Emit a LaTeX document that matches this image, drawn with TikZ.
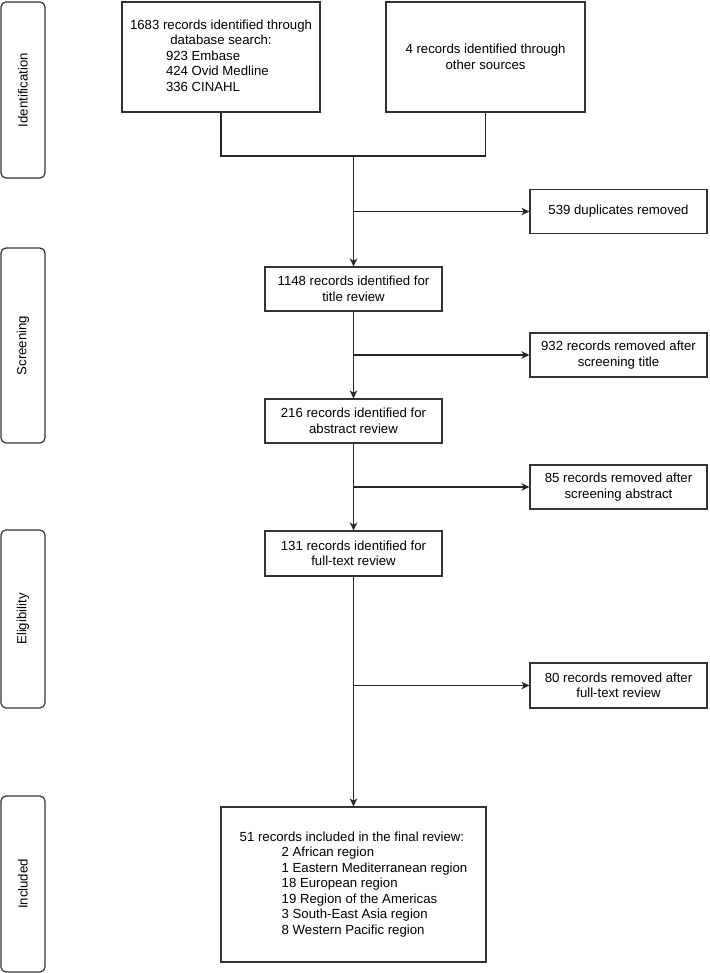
\documentclass[tikz,border=0pt]{standalone}
\usepackage{fontspec}
\setmainfont{Liberation Sans}
\usetikzlibrary{arrows.meta}

\begin{document}
\begin{tikzpicture}[x=1pt, y=-1pt, line width=1.2pt,
    font=\fontsize{13.2}{15.5}\selectfont,
    box/.style={shape=rectangle, draw=black!80, fill=white, inner sep=0pt, align=center,
      minimum width=177pt, minimum height=44pt},
    phase/.style={shape=rectangle, rounded corners=5pt, draw=black!80, inner sep=0pt,
      rotate=90, minimum height=44pt},
    flow/.style={draw=black!85, -{Stealth[length=8pt, width=7.5pt, inset=2.5pt]}}]
    \useasboundingbox (0,0) rectangle (709,973);

    \node at (23, 90) (identification) [phase, minimum width=176pt] {Identification};
    \node at (23, 345.5) (screening) [phase, minimum width=195pt] {Screening};
    \node at (23, 619) (eligibility) [phase, minimum width=178pt] {Eligibility};
    \node at (23, 884) (included) [phase, minimum width=176pt] {Included};

    \node at (221, 57) (database) [box, minimum width=198pt, minimum height=110pt]
      {\begin{tabular}{@{}l@{}}
        \multicolumn{1}{@{}c@{}}{1683 records identified through}\\
        \multicolumn{1}{@{}c@{}}{database search:}\\
        \hspace*{36pt}923 Embase\\
        \hspace*{36pt}424 Ovid Medline\\
        \hspace*{36pt}336 CINAHL
      \end{tabular}};
    \node at (485.5, 57) (other) [box, minimum width=199pt, minimum height=110pt]
      {4 records identified through\\other sources};
    \node at (618.5, 211.5) (duplicates) [box] {539 duplicates removed};
    \node at (353.5, 289) (title) [box] {1148 records identified for\\title review};
    \node at (618.5, 355) (notitle) [box] {932 records removed after\\screening title};
    \node at (353.5, 421) (abstract) [box] {216 records identified for\\abstract review};
    \node at (618.5, 487) (noabstract) [box] {85 records removed after\\screening abstract};
    \node at (353.5, 553.5) (fulltext) [box, minimum height=45pt] {131 records identified for\\full-text review};
    \node at (618.5, 685.5) (nofulltext) [box, minimum height=45pt] {80 records removed after\\full-text review};
    \node at (353.5, 884.5) (final) [box, align=left, minimum width=265pt, minimum height=155pt]
      {51 records included in the final review:\\
        \hspace*{42pt}2 African region\\
        \hspace*{42pt}1 Eastern Mediterranean region\\
        \hspace*{42pt}18 European region\\
        \hspace*{42pt}19 Region of the Americas\\
        \hspace*{42pt}3 South-East Asia region\\
        \hspace*{42pt}8 Western Pacific region};

    \coordinate (merge) at (353.5, 156);
    \draw[draw=black!85] (database.south) |- (merge) -| (other.south);
    \draw[flow] (merge) -- (title);
    \draw[flow] (merge |- duplicates) -- (duplicates);
    \draw[flow] (title) -- (abstract);
    \draw[flow] (title |- notitle) -- (notitle);
    \draw[flow] (abstract) -- (fulltext);
    \draw[flow] (abstract |- noabstract) -- (noabstract);
    \draw[flow] (fulltext) -- (final);
    \draw[flow] (fulltext |- nofulltext) -- (nofulltext);
\end{tikzpicture}
\end{document}
